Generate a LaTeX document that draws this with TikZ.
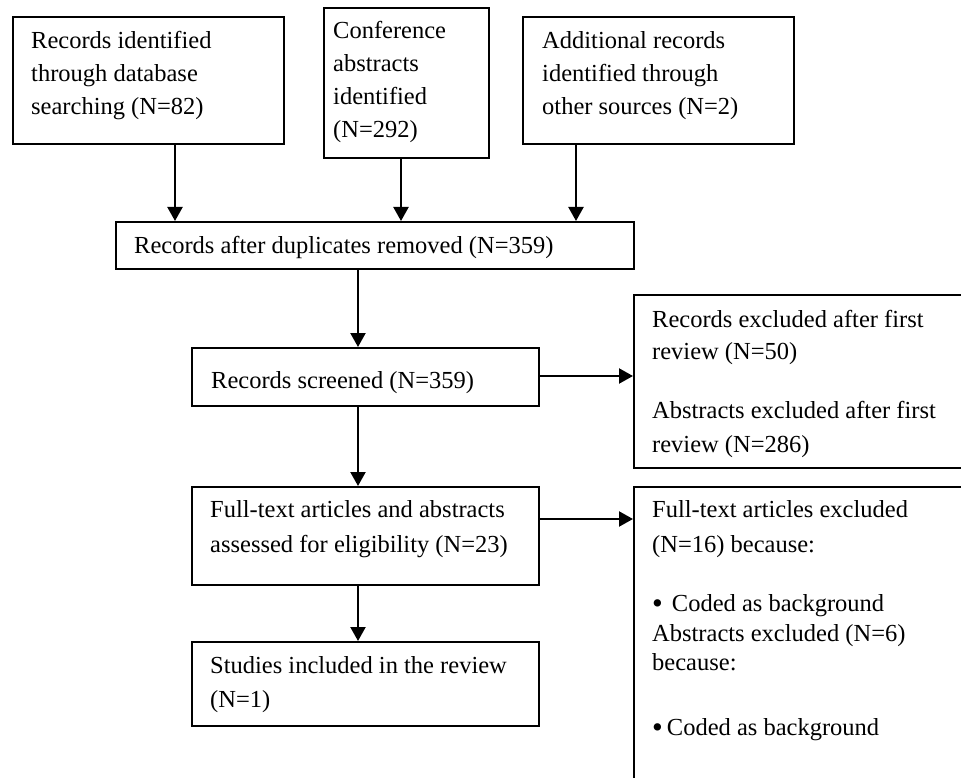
\documentclass[tikz,border=0pt]{standalone}
\usepackage{fontspec}
\setmainfont{Liberation Serif}
\usetikzlibrary{arrows.meta}
\begin{document}
\begin{tikzpicture}[x=1pt,y=-1pt,
  box/.style={draw, line width=1.6pt, rectangle, inner sep=0pt, anchor=north west},
  txt/.style={anchor=base west, inner sep=0pt, font=\fontsize{24.5}{33}\selectfont},
  arr/.style={line width=2.2pt, -{Triangle[length=14pt,width=15pt]}}]
\useasboundingbox (0,0) rectangle (961,778);
\clip (0,0) rectangle (961,778);
% boxes
\node[box, minimum width=271pt, minimum height=127pt] (b1) at (12,16) {};
\node[box, minimum width=165pt, minimum height=150pt] (b2) at (323,7) {};
\node[box, minimum width=271pt, minimum height=127pt] (b3) at (522,16) {};
\node[box, minimum width=518pt, minimum height=47pt] (dup) at (115,221) {};
\node[box, minimum width=347pt, minimum height=58pt] (scr) at (191,347) {};
\node[box, minimum width=345pt, minimum height=173pt] (exa) at (633,294) {};
\node[box, minimum width=347pt, minimum height=98pt] (ft) at (191,486) {};
\node[box, minimum width=347pt, minimum height=84pt] (st) at (191,641) {};
\node[box, minimum width=345pt, minimum height=310pt] (exb) at (633,486) {};
% texts
\node[txt] (t1a) at (31,49) {Records identified};
\node[txt] (t1b) at (31,82) {through database};
\node[txt] (t1c) at (31,115) {searching (N=82)};
\node[txt] (t2a) at (333,39) {Conference};
\node[txt] (t2b) at (333,72) {abstracts};
\node[txt] (t2c) at (333,105) {identified};
\node[txt] (t2d) at (333,138) {(N=292)};
\node[txt] (t3a) at (542,49) {Additional records};
\node[txt] (t3b) at (542,82) {identified through};
\node[txt] (t3c) at (542,115) {other sources (N=2)};
\node[txt] (t4) at (134,254) {Records after duplicates removed (N=359)};
\node[txt] (t5) at (211,388) {Records screened (N=359)};
\node[txt] (t6a) at (652,327) {Records excluded after first};
\node[txt] (t6b) at (652,359) {review (N=50)};
\node[txt] (t6c) at (652,418) {Abstracts excluded after first};
\node[txt] (t6d) at (652,452) {review (N=286)};
\node[txt] (t7a) at (210,517) {Full-text articles and abstracts};
\node[txt] (t7b) at (210,552) {assessed for eligibility (N=23)};
\node[txt] (t8a) at (210,673) {Studies included in the review};
\node[txt] (t8b) at (210,707) {(N=1)};
\node[txt] (t9a) at (652,517) {Full-text articles excluded};
\node[txt] (t9b) at (652,552) {(N=16) because:};
\node[txt] (t9c) at (652,611) {\raisebox{-2pt}{\scalebox{1.25}{•}}\kern9pt Coded as background};
\node[txt] (t9d) at (652,641) {Abstracts excluded (N=6)};
\node[txt] (t9e) at (652,670) {because:};
\node[txt] (t9f) at (652,735) {\raisebox{-2pt}{\scalebox{1.25}{•}}\kern4pt Coded as background};
% guide coordinates
\coordinate (xa) at (175,0);
\coordinate (xb) at (401,0);
\coordinate (xc) at (576,0);
\coordinate (spine) at (358,0);
\coordinate (ya) at (0,376);
\coordinate (yb) at (0,519);
% connectors
\draw[arr] (b1.south -| xa) -- (dup.north -| xa);
\draw[arr] (b2.south -| xb) -- (dup.north -| xb);
\draw[arr] (b3.south -| xc) -- (dup.north -| xc);
\draw[arr] (dup.south -| spine) -- (scr.north -| spine);
\draw[arr] (scr.south -| spine) -- (ft.north -| spine);
\draw[arr] (ft.south -| spine) -- (st.north -| spine);
\draw[arr] (scr.east |- ya) -- (exa.west |- ya);
\draw[arr] (ft.east |- yb) -- (exb.west |- yb);
\end{tikzpicture}
\end{document}
